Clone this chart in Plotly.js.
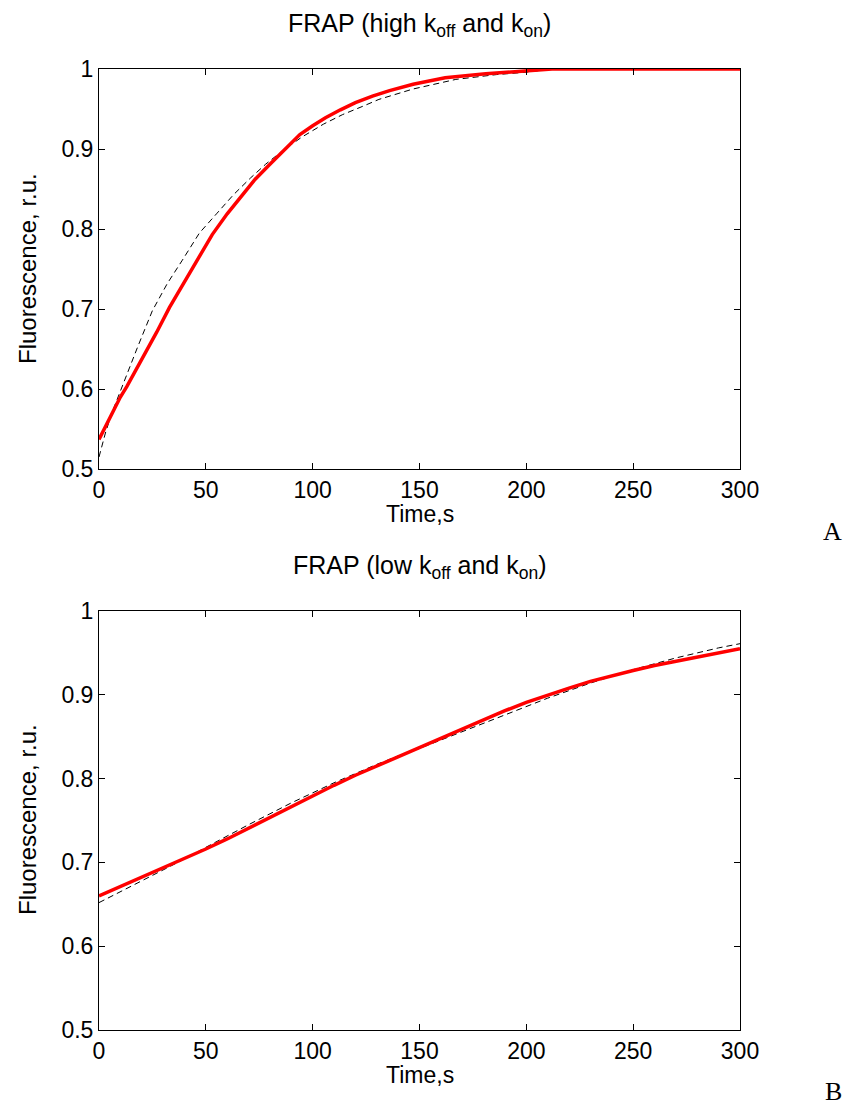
<!DOCTYPE html>
<html>
<head>
<meta charset="utf-8">
<script src="https://cdn.plot.ly/plotly-3.0.1.min.js"></script>
<style>html,body{margin:0;padding:0;background:#fff;}#chart{width:846px;height:1108px;}</style>
</head>
<body>
<div id="chart"></div>
<script>
// Panel A: high koff and kon
var timeA_red = [0, 5, 10, 13, 20, 27, 33, 40, 47, 53, 60, 67, 73, 80, 87, 94, 100, 106, 113, 120, 128, 136, 147, 162, 181, 195, 205, 212, 300];
var fluorA_red = [0.537, 0.563, 0.590, 0.603, 0.636, 0.671, 0.702, 0.734, 0.765, 0.793, 0.819, 0.843, 0.862, 0.881, 0.900, 0.918, 0.929, 0.939, 0.949, 0.958, 0.966, 0.973, 0.981, 0.989, 0.994, 0.997, 0.999, 1.0, 1.0];
var timeA_fit = [0, 3, 6, 11, 18, 25, 32, 39, 47, 55, 63, 71, 78, 86, 95, 105, 114, 124, 131, 147, 167, 186, 200, 212, 300];
var fluorA_fit = [0.515, 0.545, 0.570, 0.605, 0.652, 0.698, 0.732, 0.761, 0.795, 0.819, 0.843, 0.864, 0.881, 0.898, 0.915, 0.931, 0.943, 0.954, 0.962, 0.975, 0.987, 0.993, 0.996, 1.0, 1.0];

// Panel B: low koff and kon
var timeB = [0, 10, 20, 30, 40, 50, 60, 70, 80, 90, 100, 110, 120, 130, 140, 150, 160, 170, 180, 190, 200, 210, 220, 230, 240, 250, 260, 270, 280, 290, 300];
var fluorB_red = [0.660, 0.671, 0.682, 0.693, 0.704, 0.716, 0.728, 0.741, 0.754, 0.767, 0.780, 0.792, 0.804, 0.815, 0.827, 0.838, 0.849, 0.860, 0.871, 0.881, 0.891, 0.900, 0.908, 0.916, 0.923, 0.929, 0.935, 0.940, 0.945, 0.950, 0.955];
var fluorB_fit = [0.652, 0.665, 0.678, 0.691, 0.704, 0.718, 0.732, 0.745, 0.758, 0.771, 0.783, 0.795, 0.806, 0.817, 0.827, 0.836, 0.846, 0.856, 0.866, 0.876, 0.886, 0.896, 0.905, 0.914, 0.922, 0.930, 0.937, 0.944, 0.950, 0.956, 0.961];

var xTicks = [0, 50, 100, 150, 200, 250, 300];
var yTicks = [0.5, 0.6, 0.7, 0.8, 0.9, 1];
var yTickLabels = ['0.5', '0.6', '0.7', '0.8', '0.9', '1'];

var W = 846, H = 1108;
var FONT = 'Liberation Sans, Arial, sans-serif';
var SERIF = 'Liberation Serif, Times New Roman, serif';

var dashStyle = {color: '#000', width: 1, dash: '6px,4px'};
var redStyle = {color: '#ff0000', width: 3.5};

var traces = [
  {x: timeA_fit, y: fluorA_fit, xaxis: 'x', yaxis: 'y', mode: 'lines', line: dashStyle, hoverinfo: 'skip'},
  {x: timeA_red, y: fluorA_red, xaxis: 'x', yaxis: 'y', mode: 'lines', line: redStyle, hoverinfo: 'skip'},
  {x: timeB, y: fluorB_fit, xaxis: 'x2', yaxis: 'y2', mode: 'lines', line: dashStyle, hoverinfo: 'skip'},
  {x: timeB, y: fluorB_red, xaxis: 'x2', yaxis: 'y2', mode: 'lines', line: redStyle, hoverinfo: 'skip'}
];

function xa(anchor) {
  return {
    domain: [99 / W, 740 / W], anchor: anchor, range: [0, 300],
    tickvals: xTicks, ticktext: xTicks.map(String),
    showline: true, mirror: 'ticks', linecolor: '#000', linewidth: 1,
    ticks: 'inside', ticklen: 6, tickcolor: '#000', tickwidth: 1,
    showgrid: false, zeroline: false,
    tickfont: {family: FONT, size: 23, color: '#000'}
  };
}
function ya(anchor, top, bottom) {
  return {
    domain: [1 - bottom / H, 1 - top / H], anchor: anchor, range: [0.5, 1],
    tickvals: yTicks, ticktext: yTickLabels,
    showline: true, mirror: 'ticks', linecolor: '#000', linewidth: 1,
    ticks: 'inside', ticklen: 6, tickcolor: '#000', tickwidth: 1,
    showgrid: false, zeroline: false,
    tickfont: {family: FONT, size: 23, color: '#000'}
  };
}

function px2y(p) { return 1 - p / H; }
function ann(text, xpx, ypx, size, extra) {
  var a = {text: text, xref: 'paper', yref: 'paper', x: xpx / W, y: px2y(ypx),
    xanchor: 'center', yanchor: 'middle', showarrow: false,
    font: {family: FONT, size: size, color: '#000'}};
  for (var k in extra) a[k] = extra[k];
  return a;
}

var layout = {
  width: W, height: H,
  margin: {l: 0, r: 0, t: 0, b: 0},
  paper_bgcolor: '#fff', plot_bgcolor: '#fff',
  showlegend: false,
  xaxis: xa('y'),
  yaxis: ya('x', 69, 469),
  xaxis2: xa('y2'),
  yaxis2: ya('x2', 611, 1030),
  annotations: [
    ann('FRAP (high k<sub>off</sub> and k<sub>on</sub>)', 419.5, 25, 25),
    ann('FRAP (low k<sub>off</sub> and k<sub>on</sub>)', 419.5, 567, 25),
    ann('Time,s', 419.5, 514, 23),
    ann('Time,s', 419.5, 1075, 23),
    ann('Fluorescence, r.u.', 27, 269, 24, {textangle: -90}),
    ann('Fluorescence, r.u.', 27, 820, 24, {textangle: -90}),
    ann('A', 832, 532, 26, {font: {family: SERIF, size: 26, color: '#000'}}),
    ann('B', 833, 1091, 26, {font: {family: SERIF, size: 26, color: '#000'}})
  ]
};

Plotly.newPlot('chart', traces, layout, {staticPlot: true, displayModeBar: false});
</script>
</body>
</html>
